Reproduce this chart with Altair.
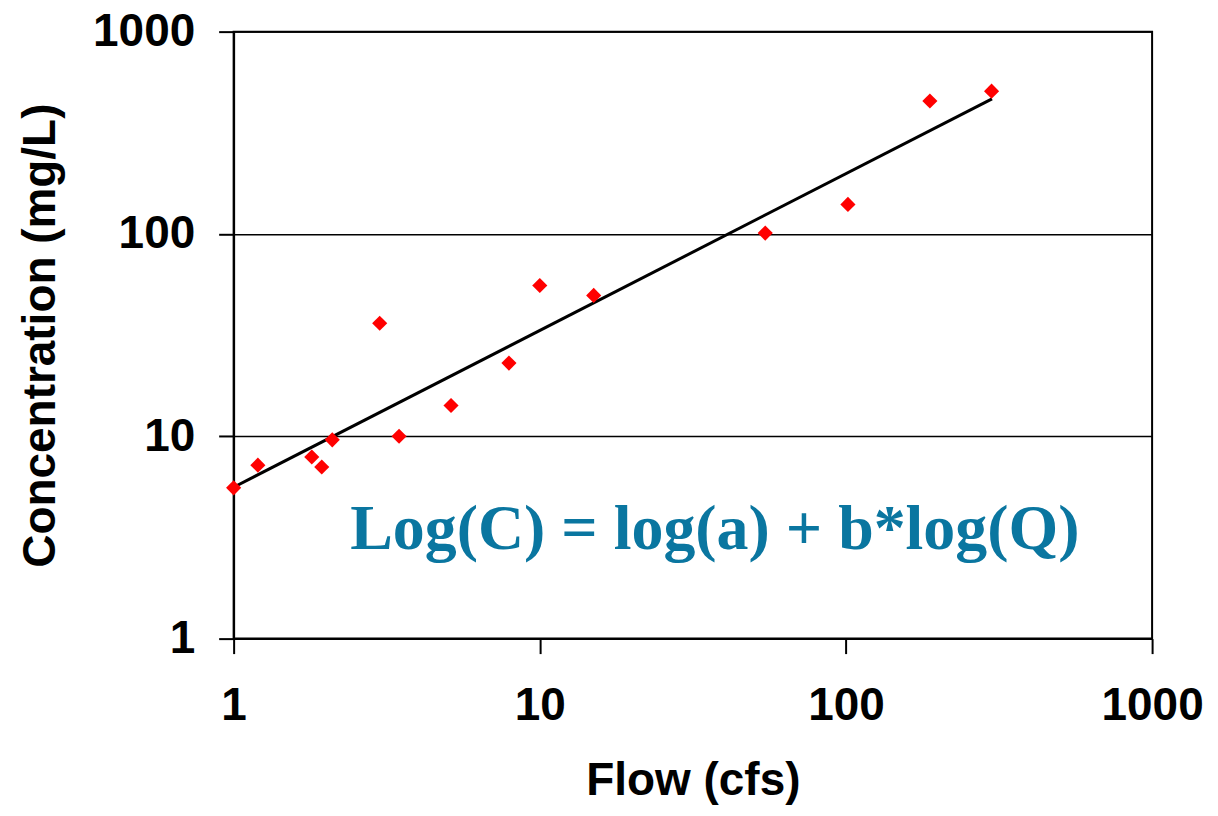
import altair as alt
import pandas as pd

# Observed data points (flow in cfs, concentration in mg/L)
flow = [1.0, 1.2, 1.8, 1.94, 2.1, 3.0, 3.47, 5.13, 7.93, 10.0, 15.0, 54.5, 101.5, 188, 299]
conc = [5.56, 7.2, 7.9, 7.05, 9.6, 36.2, 10.0, 14.2, 23.0, 55.6, 49.7, 101, 140, 454, 508]

# Fitted regression line endpoints
fit_flow = [1.0, 300.0]
fit_conc = [5.6, 465.0]

ticks = [1, 10, 100, 1000]
equation = "Log(C) = log(a) + b*log(Q)"

pts = pd.DataFrame({"flow": flow, "conc": conc})
fit = pd.DataFrame({"flow": fit_flow, "conc": fit_conc})

W, H = 920, 608

xscale = alt.Scale(type="log", domain=[1, 1000], nice=False)
yscale = alt.Scale(type="log", domain=[1, 1000], nice=False)

xaxis = alt.Axis(
    values=ticks, format="d", grid=False, title="Flow (cfs)",
    labelFont="Liberation Sans", labelFontSize=46, labelFontWeight="bold", labelColor="black",
    titleFont="Liberation Sans", titleFontSize=46, titleFontWeight="bold", titleColor="black",
    domainColor="black", domainWidth=2, tickColor="black", tickWidth=2, tickSize=15,
    labelPadding=30, titlePadding=30, labelFlush=False, labelOverlap=False,
)
yaxis = alt.Axis(
    values=ticks, format="d", grid=True, gridColor="black", gridWidth=1.5, title="Concentration (mg/L)",
    labelFont="Liberation Sans", labelFontSize=46, labelFontWeight="bold", labelColor="black",
    titleFont="Liberation Sans", titleFontSize=46, titleFontWeight="bold", titleColor="black",
    domainColor="black", domainWidth=2, tickColor="black", tickWidth=2, tickSize=15,
    labelPadding=24, titlePadding=28, labelFlush=False, labelOverlap=False,
)

points = alt.Chart(pts).mark_point(shape="diamond", filled=True, color="#ff0000", size=230, opacity=1).encode(
    x=alt.X("flow:Q", scale=xscale, axis=xaxis),
    y=alt.Y("conc:Q", scale=yscale, axis=yaxis),
)

line = alt.Chart(fit).mark_line(color="black", strokeWidth=3).encode(
    x=alt.X("flow:Q", scale=xscale),
    y=alt.Y("conc:Q", scale=yscale),
)

label = alt.Chart(pd.DataFrame({"t": [equation]})).mark_text(
    font="Liberation Serif", fontSize=64, fontWeight="bold", color="#0a76a0",
    align="center", baseline="middle",
).encode(x=alt.value(482), y=alt.value(499), text="t:N")

chart = alt.layer(line, points, label).properties(
    width=W, height=H,
    autosize=alt.AutoSizeParams(type="none"),
    padding={"left": 226, "top": 23, "right": 58, "bottom": 170},
    background="white",
).configure_view(stroke="black", strokeWidth=2)

chart.save("out.html", embed_options={"renderer": "svg", "actions": False})
